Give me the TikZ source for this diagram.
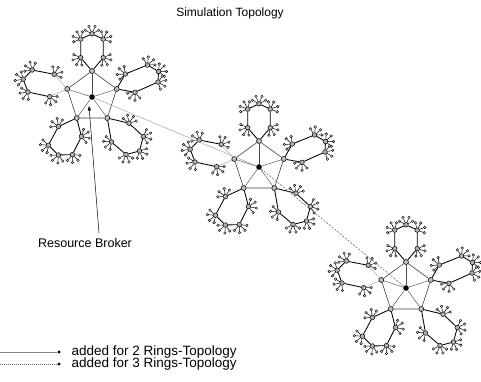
\documentclass[tikz,border=0pt]{standalone}
\usepackage{fontspec}
\setmainfont{Liberation Sans}
\usetikzlibrary{calc,arrows.meta}
\tikzset{
  pn/.style={circle,draw=black,fill=black!30,line width=0.5pt,inner sep=0pt,minimum size=4.6pt},
  vn/.style={circle,draw=black,fill=black!25,line width=0.55pt,inner sep=0pt,minimum size=5pt},
  lf/.style={circle,draw=black,fill=black!15,line width=0.4pt,inner sep=0pt,minimum size=2.6pt},
  cn/.style={circle,fill=black,inner sep=0pt,minimum size=5.6pt},
  spoke/.style={draw=black!70,line width=0.45pt},
  pent/.style={draw=black!75,line width=0.6pt},
  ring/.style={draw=black,line width=0.85pt},
  faint/.style={draw=black!30,line width=0.6pt},
  leafline/.style={draw=black,line width=0.5pt},
  cluster/.pic={
    \node[cn] (c) at (0,0) {};
    \foreach \i/\a in {1/90,2/18,3/-54,4/-126,5/162}{
      \node[vn] (v\i) at (\a:26) {};
      \draw[spoke] (c) -- (v\i);
    }
    \draw[pent] (v1) -- (v2) -- (v3) -- (v4) -- (v5) -- (v1);
    \foreach \k/\cx/\cy/\pts in {
      1/0/48/{-11.3/39.3,-11.3/57.9,0/63.2,11.2/57.9,11.2/39.3},
      2/48.2/18/{33.3/23,55.5/32,66.5/25.5,66/15,43/4.7},
      3/34.1/-40.5/{37/-26.2,51.3/-39.5,47.5/-54,34/-57.5,19.5/-45},
      4/-26/-42.3/{-33.6/-29.5,-43.6/-48.2,-33.6/-58,-19.6/-57.6,-10.6/-39.5},
      5/-49.6/13.5/{-37.8/22.7,-59.8/27,-68.8/17.8,-64/5,-42.3/0.3}}{
      \foreach \x/\y [count=\j] in \pts {
        \node[pn] (p\k-\j) at (\x,\y) {};
        \pgfmathsetmacro{\ang}{atan2(\y-\cy,\x-\cx)}
        \foreach \d/\r [count=\m] in {-62/7.5,-22/8,22/8,62/7.5}{
          \node[lf] (l\k-\j-\m) at ($(\x,\y)+(\ang+\d:\r)$) {};
          \draw[leafline] (p\k-\j) -- (l\k-\j-\m);
        }
      }
      \draw[ring] (p\k-1) -- (p\k-2) -- (p\k-3) -- (p\k-4) -- (p\k-5);
    }
    \foreach \k in {1,2,3,4}{
      \draw[ring] (v\k) -- (p\k-1);
      \draw[ring] (v\k) -- (p\k-5);
    }
    \draw[faint] (v5) -- (p5-1);
    \draw[faint] (v5) -- (p5-5);
  }
}
\begin{document}
\begin{tikzpicture}[x=1pt,y=1pt]
  \fill[white] (0,0) rectangle (481,-381);
  \useasboundingbox (0,0) rectangle (481,-381);
  \node[font=\fontsize{12}{14}\selectfont] (title) at (230,-13) {Simulation Topology};
  \pic (c1-) at (92,-97) {cluster};
  \pic (c2-) at (259,-167) {cluster};
  \pic (c3-) at (406,-288) {cluster};
  \draw[draw=black!35,line width=0.5pt] (c1-c) -- (c2-c);
  \draw[draw=black!65,line width=0.5pt,dash pattern=on 2pt off 1.5pt] (c2-c) -- (c3-c);
  \node[font=\fontsize{12.5}{14}\selectfont] (rb) at (85,-243) {Resource Broker};
  \coordinate (rbs) at (99,-233);
  \coordinate (rbe) at (89,-106);
  \draw[line width=0.5pt,-{Triangle[length=4.5pt,width=3.2pt]}] (rbs) -- (rbe);
  \coordinate (l1a) at (0,-352);
  \node[circle,fill=black,inner sep=0pt,minimum size=3.2pt] (l1b) at (59,-352) {};
  \draw[draw=black!50,line width=0.5pt] (l1a) -- (l1b);
  \node[anchor=west,font=\fontsize{13.5}{15}\selectfont] (t1) at (68,-352) {added for 2 Rings-Topology};
  \coordinate (l2a) at (0,-364);
  \node[circle,fill=black,inner sep=0pt,minimum size=3.2pt] (l2b) at (59,-364) {};
  \draw[draw=black!60,line width=0.5pt,dash pattern=on 1pt off 1pt] (l2a) -- (l2b);
  \node[anchor=west,font=\fontsize{13.5}{15}\selectfont] (t2) at (68,-364) {added for 3 Rings-Topology};
\end{tikzpicture}
\end{document}
